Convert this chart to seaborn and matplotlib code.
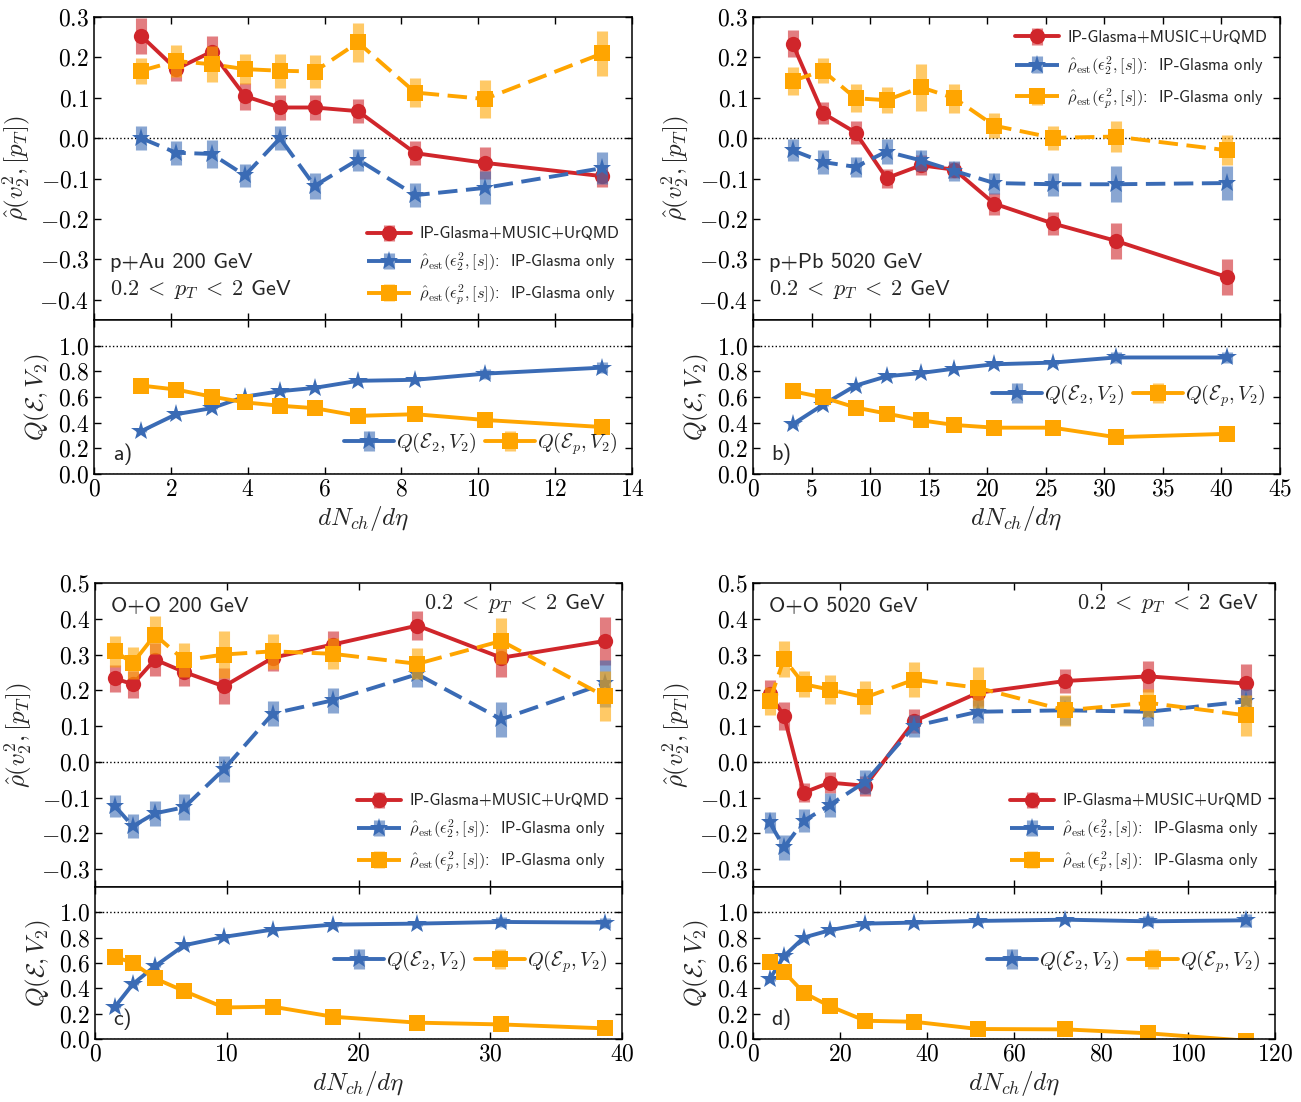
import numpy as np
import matplotlib
matplotlib.use("Agg")
import matplotlib.pyplot as plt
from matplotlib.ticker import MultipleLocator, FuncFormatter
import seaborn as sns

# panel a: p+Au 200 GeV
a_x = [1.23, 2.14, 3.06, 3.93, 4.84, 5.74, 6.87, 8.36, 10.17, 13.23]
a_rho = [0.253, 0.171, 0.214, 0.104, 0.076, 0.076, 0.067, -0.037, -0.061, -0.094]
a_rho_err = [0.045, 0.03, 0.04, 0.033, 0.03, 0.03, 0.03, 0.03, 0.04, 0.028]
a_eps2 = [0.0, -0.036, -0.039, -0.092, 0.0, -0.118, -0.053, -0.141, -0.123, -0.074]
a_eps2_err = [0.03, 0.03, 0.034, 0.028, 0.03, 0.032, 0.027, 0.029, 0.041, 0.04]
a_epsp = [0.167, 0.191, 0.183, 0.171, 0.167, 0.165, 0.237, 0.113, 0.097, 0.21]
a_epsp_err = [0.032, 0.04, 0.044, 0.037, 0.042, 0.041, 0.048, 0.035, 0.047, 0.055]
a_q2 = [0.334, 0.466, 0.513, 0.603, 0.645, 0.671, 0.726, 0.734, 0.782, 0.829]
a_q2_err = [0.01, 0.01, 0.01, 0.01, 0.01, 0.01, 0.01, 0.01, 0.04, 0.04]
a_qp = [0.689, 0.658, 0.603, 0.558, 0.532, 0.513, 0.453, 0.466, 0.421, 0.366]
a_qp_err = [0.01] * 10

# panel b: p+Pb 5020 GeV
b_x = [3.38, 5.97, 8.76, 11.4, 14.35, 17.2, 20.6, 25.6, 30.97, 40.5]
b_rho = [0.234, 0.062, 0.014, -0.099, -0.067, -0.078, -0.162, -0.211, -0.254, -0.344]
b_rho_err = [0.033, 0.028, 0.028, 0.024, 0.025, 0.02, 0.027, 0.029, 0.045, 0.045]
b_eps2 = [-0.03, -0.059, -0.071, -0.033, -0.055, -0.081, -0.111, -0.114, -0.114, -0.111]
b_eps2_err = [0.027, 0.029, 0.025, 0.03, 0.025, 0.025, 0.026, 0.028, 0.045, 0.042]
b_epsp = [0.142, 0.167, 0.099, 0.094, 0.126, 0.099, 0.031, 0.001, 0.004, -0.03]
b_epsp_err = [0.034, 0.031, 0.035, 0.032, 0.058, 0.036, 0.031, 0.03, 0.038, 0.037]
b_q2 = [0.387, 0.539, 0.689, 0.761, 0.787, 0.821, 0.855, 0.868, 0.908, 0.908]
b_q2_err = [0.01, 0.01, 0.01, 0.01, 0.01, 0.01, 0.01, 0.015, 0.04, 0.04]
b_qp = [0.645, 0.597, 0.518, 0.471, 0.418, 0.382, 0.361, 0.361, 0.287, 0.313]
b_qp_err = [0.01] * 10

# panel c: O+O 200 GeV
c_x = [1.52, 2.87, 4.55, 6.78, 9.78, 13.5, 18.05, 24.47, 30.84, 38.7]
c_rho = [0.233, 0.217, 0.286, 0.251, 0.211, 0.291, 0.328, 0.381, 0.291, 0.338]
c_rho_err = [0.037, 0.038, 0.045, 0.038, 0.05, 0.036, 0.037, 0.04, 0.054, 0.068]
c_eps2 = [-0.124, -0.18, -0.144, -0.127, -0.021, 0.135, 0.172, 0.245, 0.119, 0.219]
c_eps2_err = [0.031, 0.033, 0.035, 0.036, 0.036, 0.036, 0.035, 0.035, 0.049, 0.066]
c_epsp = [0.309, 0.276, 0.355, 0.284, 0.3, 0.309, 0.302, 0.274, 0.338, 0.183]
c_epsp_err = [0.043, 0.045, 0.053, 0.048, 0.066, 0.049, 0.043, 0.043, 0.064, 0.07]
c_q2 = [0.255, 0.433, 0.575, 0.74, 0.806, 0.864, 0.903, 0.911, 0.924, 0.919]
c_q2_err = [0.01, 0.01, 0.01, 0.01, 0.01, 0.01, 0.015, 0.015, 0.04, 0.04]
c_qp = [0.648, 0.601, 0.478, 0.378, 0.249, 0.255, 0.176, 0.129, 0.115, 0.084]
c_qp_err = [0.01] * 10

# panel d: O+O 5020 GeV
d_x = [3.8, 7.14, 11.67, 17.6, 25.8, 37.1, 51.7, 71.8, 90.9, 113.3]
d_rho = [0.191, 0.128, -0.086, -0.058, -0.067, 0.114, 0.193, 0.226, 0.239, 0.219]
d_rho_err = [0.037, 0.04, 0.027, 0.03, 0.028, 0.033, 0.037, 0.033, 0.044, 0.055]
d_eps2 = [-0.169, -0.239, -0.165, -0.121, -0.056, 0.1, 0.14, 0.144, 0.14, 0.169]
d_eps2_err = [0.029, 0.035, 0.032, 0.034, 0.034, 0.031, 0.032, 0.04, 0.041, 0.036]
d_epsp = [0.17, 0.288, 0.217, 0.202, 0.18, 0.23, 0.207, 0.144, 0.165, 0.13]
d_epsp_err = [0.039, 0.051, 0.036, 0.04, 0.046, 0.049, 0.057, 0.043, 0.04, 0.057]
d_q2 = [0.47, 0.654, 0.801, 0.858, 0.911, 0.919, 0.932, 0.942, 0.929, 0.937]
d_q2_err = [0.01, 0.01, 0.01, 0.01, 0.01, 0.01, 0.015, 0.02, 0.04, 0.05]
d_qp = [0.609, 0.53, 0.365, 0.26, 0.144, 0.136, 0.079, 0.076, 0.045, -0.013]
d_qp_err = [0.01] * 10

RED = "#d0262b"
BLUE = "#3a6bb5"
ORANGE = "#ffa500"
DASH = (0, (5.0, 2.2))

sns.set_style("ticks")
plt.rcParams["font.family"] = ["cmss10", "DejaVu Sans"]
plt.rcParams["mathtext.fontset"] = "cm"
plt.rcParams["axes.unicode_minus"] = False
plt.rcParams["axes.linewidth"] = 1.1
plt.rcParams["axes.edgecolor"] = "black"

W, H = 1301, 1102
fig = plt.figure(figsize=(W / 100, H / 100), dpi=100)


def box(l, r, t, b):
    return [l / W, 1 - b / H, (r - l) / W, (b - t) / H]


def style_axes(ax):
    ax.tick_params(direction="in", top=True, right=True, length=5, width=1.0,
                   labelsize=17, colors="black")


def series(ax, x, y, err, color, marker, ms, ls):
    eb = ax.errorbar(x, y, yerr=err, fmt="none", ecolor=color, elinewidth=8,
                     alpha=0.6, capsize=0)
    sns.lineplot(x=x, y=y, ax=ax, color=color, marker=marker, markersize=ms,
                 linewidth=2.8, linestyle=ls, markeredgewidth=0,
                 errorbar=None, sort=False)
    return (eb, ax.lines[-1])


fmt1 = FuncFormatter(lambda v, p: f"${v:.1f}$")
fmtx = FuncFormatter(lambda v, p: f"${v:g}$")

panels = [
    dict(x=a_x, rho=(a_rho, a_rho_err), e2=(a_eps2, a_eps2_err), ep=(a_epsp, a_epsp_err),
         q2=(a_q2, a_q2_err), qp=(a_qp, a_qp_err), xs=(94, 632), ys=(17, 320, 474),
         xlim=14, xstep=2, ylim=(-0.45, 0.3), sys="p+Au 200 GeV", tag="a)",
         leg="lower right", qleg=("lower right", (1.0, 0.02)), note="left"),
    dict(x=b_x, rho=(b_rho, b_rho_err), e2=(b_eps2, b_eps2_err), ep=(b_epsp, b_epsp_err),
         q2=(b_q2, b_q2_err), qp=(b_qp, b_qp_err), xs=(753, 1280), ys=(17, 320, 474),
         xlim=45, xstep=5, ylim=(-0.45, 0.3), sys="p+Pb 5020 GeV", tag="b)",
         leg="upper right", qleg=("center right", (1.0, 0.51)), note="left"),
    dict(x=c_x, rho=(c_rho, c_rho_err), e2=(c_eps2, c_eps2_err), ep=(c_epsp, c_epsp_err),
         q2=(c_q2, c_q2_err), qp=(c_qp, c_qp_err), xs=(95, 622), ys=(583, 887, 1039),
         xlim=40, xstep=10, ylim=(-0.35, 0.5), sys="O+O 200 GeV", tag="c)",
         leg="lower right", qleg=("center right", (1.0, 0.51)), note="top"),
    dict(x=d_x, rho=(d_rho, d_rho_err), e2=(d_eps2, d_eps2_err), ep=(d_epsp, d_epsp_err),
         q2=(d_q2, d_q2_err), qp=(d_qp, d_qp_err), xs=(753, 1275), ys=(583, 887, 1039),
         xlim=120, xstep=20, ylim=(-0.35, 0.5), sys="O+O 5020 GeV", tag="d)",
         leg="lower right", qleg=("center right", (1.0, 0.51)), note="top"),
]

rho_labels = ["IP-Glasma+MUSIC+UrQMD",
              r"$\hat{\rho}_{\rm est}(\epsilon_2^2, [s])$:  IP-Glasma only",
              r"$\hat{\rho}_{\rm est}(\epsilon_p^2, [s])$:  IP-Glasma only"]
q_labels = [r"$Q(\mathcal{E}_2, V_2)$", r"$Q(\mathcal{E}_p, V_2)$"]
pt_text = r"$\mathsf{0.2}\;<\;p_T\;<\;\mathsf{2}$ GeV"

for p in panels:
    l, r = p["xs"]
    t, m, b = p["ys"]
    ax = fig.add_axes(box(l, r, t, m))
    axq = fig.add_axes(box(l, r, m, b))

    # upper: rho(v2^2, [pT])
    ax.axhline(0, color="black", linestyle=":", linewidth=1.0, zorder=1)
    h1 = series(ax, p["x"], *p["rho"], RED, "o", 11, "-")
    h2 = series(ax, p["x"], *p["e2"], BLUE, "*", 14, DASH)
    h3 = series(ax, p["x"], *p["ep"], ORANGE, "s", 12, DASH)
    ax.set_xlim(0, p["xlim"])
    ax.set_ylim(*p["ylim"])
    ax.xaxis.set_major_locator(MultipleLocator(p["xstep"]))
    ax.yaxis.set_major_locator(MultipleLocator(0.1))
    ax.yaxis.set_major_formatter(fmt1)
    style_axes(ax)
    ax.tick_params(labelbottom=False)
    ax.set_xlabel("")
    ax.set_ylabel(r"$\hat{\rho}(v_2^2, [p_T])$", fontsize=18, labelpad=5)
    ax.legend([h1, h2, h3], rho_labels, loc=p["leg"], frameon=False,
              fontsize=11.8, handlelength=2.7, handletextpad=0.5,
              labelspacing=0.55, borderaxespad=0.4)

    if p["note"] == "left":
        ax.text(0.03, 0.19, p["sys"], transform=ax.transAxes, fontsize=16,
                va="center", ha="left")
        ax.text(0.03, 0.10, pt_text, transform=ax.transAxes, fontsize=16,
                va="center", ha="left")
    else:
        ax.text(0.03, 0.922, p["sys"], transform=ax.transAxes, fontsize=16,
                va="center", ha="left")
        ax.text(0.968, 0.932, pt_text, transform=ax.transAxes, fontsize=16,
                va="center", ha="right")

    # lower: Q(E, V2)
    axq.axhline(1.0, color="black", linestyle=":", linewidth=1.0, zorder=1)
    axq.axhline(0.0, color="black", linestyle=":", linewidth=1.0, zorder=1)
    g1 = series(axq, p["x"], *p["q2"], BLUE, "*", 15, "-")
    g2 = series(axq, p["x"], *p["qp"], ORANGE, "s", 12, "-")
    axq.set_xlim(0, p["xlim"])
    axq.set_ylim(0, 1.2)
    axq.set_yticks(np.arange(0, 1.01, 0.2))
    axq.xaxis.set_major_locator(MultipleLocator(p["xstep"]))
    axq.yaxis.set_major_formatter(fmt1)
    axq.xaxis.set_major_formatter(fmtx)
    style_axes(axq)
    axq.set_ylabel(r"$Q(\mathcal{E}, V_2)$", fontsize=18, labelpad=4)
    axq.set_xlabel(r"$dN_{ch}/d\eta$", fontsize=18, labelpad=2)
    qloc, qanchor = p["qleg"]
    axq.legend([g1, g2], q_labels, loc=qloc, bbox_to_anchor=qanchor, ncol=2,
               frameon=False, fontsize=14.5, handlelength=2.5, handletextpad=0.1,
               columnspacing=0.4, borderaxespad=0.3)
    axq.text(0.035, 0.13, p["tag"], transform=axq.transAxes, fontsize=16,
             va="center", ha="left")

fig.savefig("out.png", dpi=100)
